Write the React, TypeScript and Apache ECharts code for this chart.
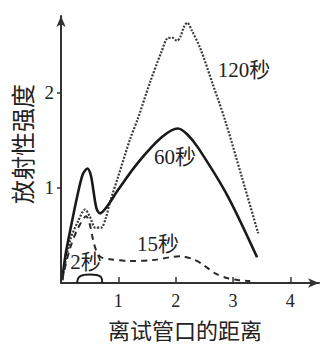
import React, { useEffect, useRef } from "react";
import * as echarts from "echarts";

const xTicks = [1, 2, 3, 4];
const yTicks = [1, 2];

const s120: [number, number][] = [
  [0.02, 0.03], [0.16, 0.45], [0.3, 0.65], [0.42, 0.77], [0.5, 0.7], [0.6, 0.58],
  [0.7, 0.58], [0.78, 0.68], [0.86, 0.86], [1.0, 1.12], [1.2, 1.5], [1.35, 1.74],
  [1.55, 2.1], [1.75, 2.42], [1.87, 2.57], [1.95, 2.57], [2.02, 2.54], [2.08, 2.58],
  [2.14, 2.68], [2.2, 2.73], [2.28, 2.65], [2.43, 2.46], [2.65, 2.08], [2.86, 1.71],
  [3.15, 1.12], [3.44, 0.52],
];
const s60: [number, number][] = [
  [0.02, 0.03], [0.08, 0.3], [0.16, 0.55], [0.28, 0.9], [0.38, 1.14], [0.46, 1.2],
  [0.52, 1.13], [0.57, 0.95], [0.62, 0.78], [0.68, 0.73], [0.8, 0.8], [1.0, 0.98],
  [1.34, 1.26], [1.76, 1.53], [2.04, 1.62], [2.2, 1.56], [2.39, 1.42], [2.9, 0.92],
  [3.42, 0.27],
];
const s15: [number, number][] = [
  [0.02, 0.03], [0.15, 0.35], [0.3, 0.58], [0.44, 0.7], [0.5, 0.62], [0.56, 0.45],
  [0.62, 0.33], [0.7, 0.27], [0.85, 0.25], [1.2, 0.23], [1.6, 0.24], [1.9, 0.27],
  [2.1, 0.28], [2.3, 0.25], [2.46, 0.2], [2.69, 0.1], [2.91, 0.05], [3.1, 0.03],
  [3.3, 0.02],
];
const s2: [number, number][] = [
  [0.28, 0], [0.31, 0.06], [0.4, 0.085], [0.5, 0.09], [0.62, 0.085], [0.7, 0.06], [0.72, 0],
];

const seriesLabels = [
  { text: "120秒", x: 244, y: 70 },
  { text: "60秒", x: 175, y: 157 },
  { text: "15秒", x: 158, y: 244 },
  { text: "2秒", x: 86, y: 262 },
];

const xTitle = "离试管口的距离";
const yTitle = "放射性强度";

const serif = "Liberation Serif, 'Noto Sans CJK SC', serif";
const cjk = "'Noto Sans CJK SC', sans-serif";

export default function App() {
  const ref = useRef<HTMLDivElement>(null);
  useEffect(() => {
    if (!ref.current) return;
    const chart = echarts.init(ref.current, undefined, { renderer: "svg" });
    const axisColor = "#333";
    chart.setOption({
      animation: false,
      backgroundColor: "#fff",
      grid: { left: 61, right: 3, top: 16, bottom: 61, containLabel: false, outerBoundsMode: "none" },
      xAxis: {
        type: "value",
        min: 0,
        max: 4.5,
        interval: 1,
        splitLine: { show: false },
        axisLine: {
          show: true,
          onZero: false,
          symbol: ["none", "arrow"],
          symbolSize: [7, 11],
          lineStyle: { color: axisColor, width: 2 },
        },
        axisTick: { show: true, inside: true, length: 6, customValues: xTicks, lineStyle: { color: axisColor, width: 1.5 } },
        axisLabel: {
          customValues: xTicks,
          margin: 9,
          color: "#222",
          fontSize: 18,
          fontFamily: serif,
        },
      },
      yAxis: {
        type: "value",
        min: 0,
        max: 2.8,
        interval: 1,
        name: yTitle,
        nameLocation: "middle",
        nameRotate: 90,
        nameGap: 27,
        nameTextStyle: { color: "#222", fontSize: 24, fontFamily: cjk, padding: [0, 0, 0, 11] },
        splitLine: { show: false },
        axisLine: {
          show: true,
          onZero: false,
          symbol: ["none", "arrow"],
          symbolSize: [7, 11],
          lineStyle: { color: axisColor, width: 2 },
        },
        axisTick: { show: true, length: 4, customValues: yTicks, lineStyle: { color: axisColor, width: 1.5 } },
        axisLabel: {
          customValues: yTicks,
          margin: 7,
          color: "#222",
          fontSize: 19,
          fontFamily: serif,
        },
      },
      series: [
        {
          type: "line",
          data: s120,
          smooth: 0.3,
          showSymbol: false,
          lineStyle: { color: "#3a3a3a", width: 2.2, type: [2, 1.5] },
        },
        {
          type: "line",
          data: s60,
          smooth: 0.3,
          showSymbol: false,
          lineStyle: { color: "#1a1a1a", width: 2.6 },
        },
        {
          type: "line",
          data: s15,
          smooth: 0.3,
          showSymbol: false,
          lineStyle: { color: "#2a2a2a", width: 2, type: [6, 5] },
        },
        {
          type: "line",
          data: s2,
          smooth: 0.4,
          showSymbol: false,
          lineStyle: { color: "#1a1a1a", width: 2 },
        },
      ],
      graphic: [
        ...seriesLabels.map((l) => ({
          type: "text",
          x: l.x,
          y: l.y,
          style: {
            text: l.text,
            fill: "#222",
            font: `21px ${serif}`,
            align: "center",
            verticalAlign: "middle",
          },
        })),
        {
          type: "text",
          x: 185,
          y: 329,
          style: { text: xTitle, fill: "#222", font: `22px ${cjk}`, align: "center", verticalAlign: "middle" },
        },
      ],
    });
    return () => chart.dispose();
  }, []);
  return (
    <div
      ref={ref}
      style={{ position: "fixed", left: 0, top: 0, width: 322, height: 344, background: "#fff" }}
    />
  );
}
